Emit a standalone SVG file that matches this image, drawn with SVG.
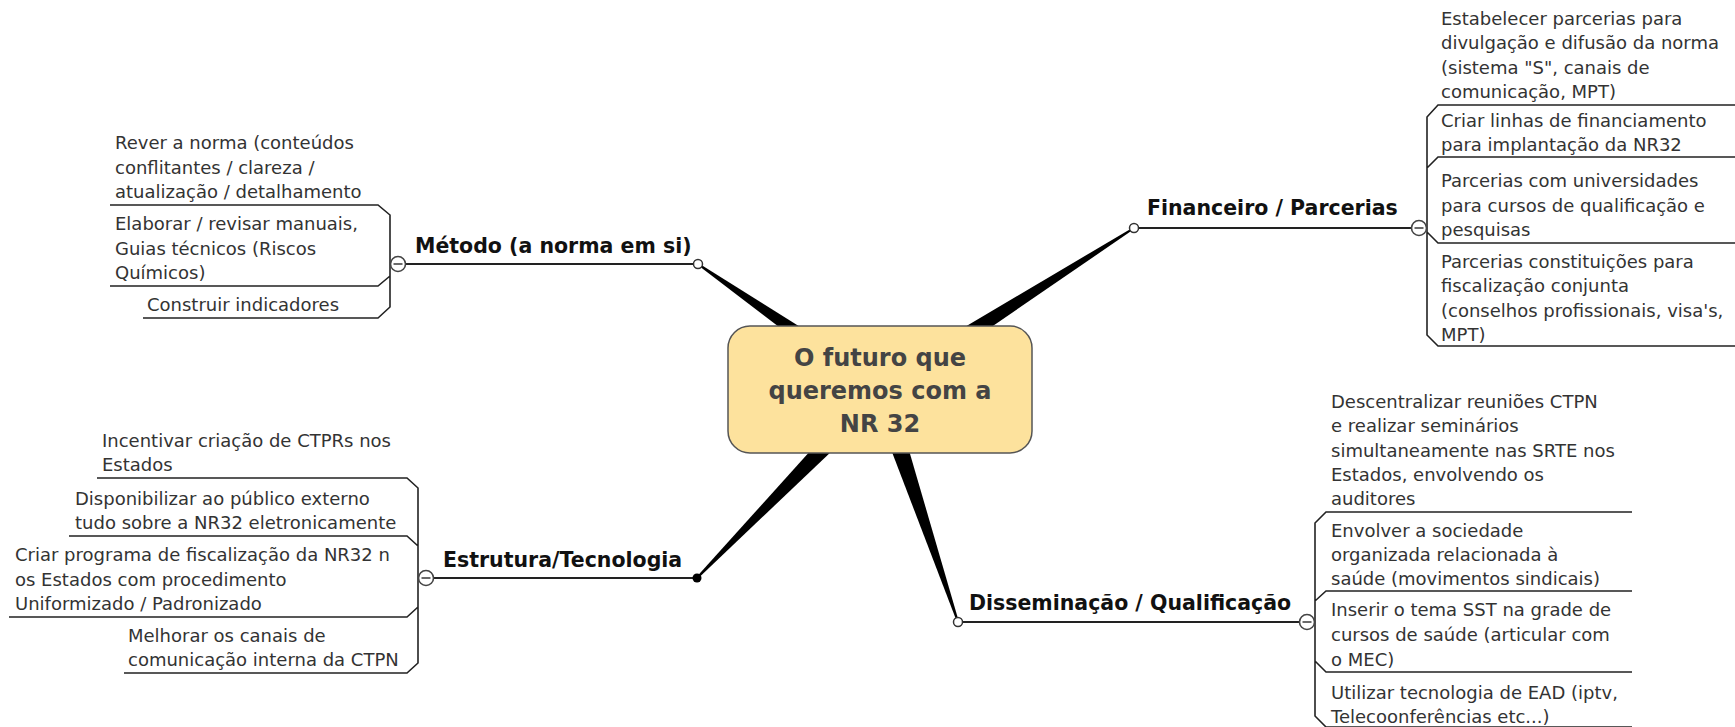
<svg xmlns="http://www.w3.org/2000/svg" width="1735" height="727" viewBox="0 0 1735 727">
<style>
.t{font-family:"DejaVu Sans","Liberation Sans",sans-serif;font-size:18px;fill:#333}
.lb{font-family:"DejaVu Sans","Liberation Sans",sans-serif;font-size:20.5px;font-weight:bold;fill:#111}
.ct{font-family:"DejaVu Sans","Liberation Sans",sans-serif;font-size:24px;font-weight:bold;fill:#444;text-anchor:middle}
.br{fill:none;stroke:#222;stroke-width:1.6}
.ln{fill:none;stroke:#222;stroke-width:2}
.tap{fill:#000}
.end{fill:#fff;stroke:#333;stroke-width:1.5}
.col{fill:#fff;stroke:#444;stroke-width:1.6}
.minus{stroke:#444;stroke-width:1.6}
</style>
<g id="connectors">
<polygon class="tap" points="886.3,381 873.7,399 697.4,264.8 698.6,263.2"/>
<polygon class="tap" points="885.9,399.3 874.1,380.7 1133.5,227.2 1134.5,228.8"/>
<polygon class="tap" points="872.1,382.3 887.9,397.7 697.7,578.7 696.3,577.3"/>
<polygon class="tap" points="869.6,393.5 890.4,386.5 958.9,621.7 957.1,622.3"/>
</g>
<g id="center">
<rect x="728" y="326" width="304" height="127" rx="22" fill="#fde29d" stroke="#555" stroke-width="1.5"/>
<text class="ct"><tspan x="880" y="366">O futuro que</tspan><tspan x="880" y="399">queremos com a</tspan><tspan x="880" y="432">NR 32</tspan></text>
</g>
<g id="metodo">
<line class="ln" x1="406" y1="264" x2="694" y2="264"/>
<circle class="end" cx="698" cy="264" r="4.5"/>
<text class="lb" x="415" y="253">Método (a norma em si)</text>
<path class="br" d="M110,205 H378 L390,215 V307 L378,318 H143 M110,286 H378 L390,276"/>
<circle class="col" cx="398" cy="264" r="7.5"/>
<line class="minus" x1="393.5" y1="264" x2="402.5" y2="264"/>
<text class="t"><tspan x="115" y="149">Rever a norma (conteúdos</tspan><tspan x="115" y="174">conflitantes / clareza /</tspan><tspan x="115" y="198">atualização / detalhamento</tspan></text>
<text class="t"><tspan x="115" y="230">Elaborar / revisar manuais,</tspan><tspan x="115" y="255">Guias técnicos (Riscos</tspan><tspan x="115" y="279">Químicos)</tspan></text>
<text class="t" x="147" y="311">Construir indicadores</text>
</g>
<g id="estrutura">
<line class="ln" x1="434" y1="578" x2="693" y2="578"/>
<circle cx="697" cy="578" r="4.5" fill="#000"/>
<text class="lb" x="443" y="567">Estrutura/Tecnologia</text>
<path class="br" d="M97,478 H407 L418,488 V663 L407,673 H124 M69,536 H407 L418,546 M9,617 H407 L418,607"/>
<circle class="col" cx="426" cy="578" r="7.5"/>
<line class="minus" x1="421.5" y1="578" x2="430.5" y2="578"/>
<text class="t"><tspan x="102" y="447">Incentivar criação de CTPRs nos</tspan><tspan x="102" y="471">Estados</tspan></text>
<text class="t"><tspan x="75" y="505">Disponibilizar ao público externo</tspan><tspan x="75" y="529">tudo sobre a NR32 eletronicamente</tspan></text>
<text class="t"><tspan x="15" y="561">Criar programa de fiscalização da NR32 n</tspan><tspan x="15" y="586">os Estados com procedimento</tspan><tspan x="15" y="610">Uniformizado / Padronizado</tspan></text>
<text class="t"><tspan x="128" y="642">Melhorar os canais de</tspan><tspan x="128" y="666">comunicação interna da CTPN</tspan></text>
</g>
<g id="financeiro">
<line class="ln" x1="1139" y1="228" x2="1411" y2="228"/>
<circle class="end" cx="1134" cy="228" r="4.5"/>
<text class="lb" x="1147" y="215">Financeiro / Parcerias</text>
<path class="br" d="M1735,105 H1438 L1427,117 V335 L1438,346 H1735 M1735,157 H1438 L1427,168 M1735,243 H1438 L1427,232"/>
<circle class="col" cx="1419" cy="228" r="7.5"/>
<line class="minus" x1="1414.5" y1="228" x2="1423.5" y2="228"/>
<text class="t"><tspan x="1441" y="25">Estabelecer parcerias para</tspan><tspan x="1441" y="49">divulgação e difusão da norma</tspan><tspan x="1441" y="74">(sistema "S", canais de</tspan><tspan x="1441" y="98">comunicação, MPT)</tspan></text>
<text class="t"><tspan x="1441" y="127">Criar linhas de financiamento</tspan><tspan x="1441" y="151">para implantação da NR32</tspan></text>
<text class="t"><tspan x="1441" y="187">Parcerias com universidades</tspan><tspan x="1441" y="212">para cursos de qualificação e</tspan><tspan x="1441" y="236">pesquisas</tspan></text>
<text class="t"><tspan x="1441" y="268">Parcerias constituições para</tspan><tspan x="1441" y="292">fiscalização conjunta</tspan><tspan x="1441" y="317">(conselhos profissionais, visa's,</tspan><tspan x="1441" y="341">MPT)</tspan></text>
</g>
<g id="disseminacao">
<line class="ln" x1="963" y1="622" x2="1299" y2="622"/>
<circle class="end" cx="958" cy="622" r="4.5"/>
<text class="lb" x="969" y="610">Disseminação / Qualificação</text>
<path class="br" d="M1632,512 H1326 L1315,523 V716 L1326,727 H1632 M1632,591 H1326 L1315,601 M1632,672 H1326 L1315,661"/>
<circle class="col" cx="1307" cy="622" r="7.5"/>
<line class="minus" x1="1302.5" y1="622" x2="1311.5" y2="622"/>
<text class="t"><tspan x="1331" y="408">Descentralizar reuniões CTPN</tspan><tspan x="1331" y="432">e realizar seminários</tspan><tspan x="1331" y="457">simultaneamente nas SRTE nos</tspan><tspan x="1331" y="481">Estados, envolvendo os</tspan><tspan x="1331" y="505">auditores</tspan></text>
<text class="t"><tspan x="1331" y="537">Envolver a sociedade</tspan><tspan x="1331" y="561">organizada relacionada à</tspan><tspan x="1331" y="585">saúde (movimentos sindicais)</tspan></text>
<text class="t"><tspan x="1331" y="616">Inserir o tema SST na grade de</tspan><tspan x="1331" y="641">cursos de saúde (articular com</tspan><tspan x="1331" y="666">o MEC)</tspan></text>
<text class="t"><tspan x="1331" y="699">Utilizar tecnologia de EAD (iptv,</tspan><tspan x="1331" y="723">Telecoonferências etc...)</tspan></text>
</g>
</svg>
